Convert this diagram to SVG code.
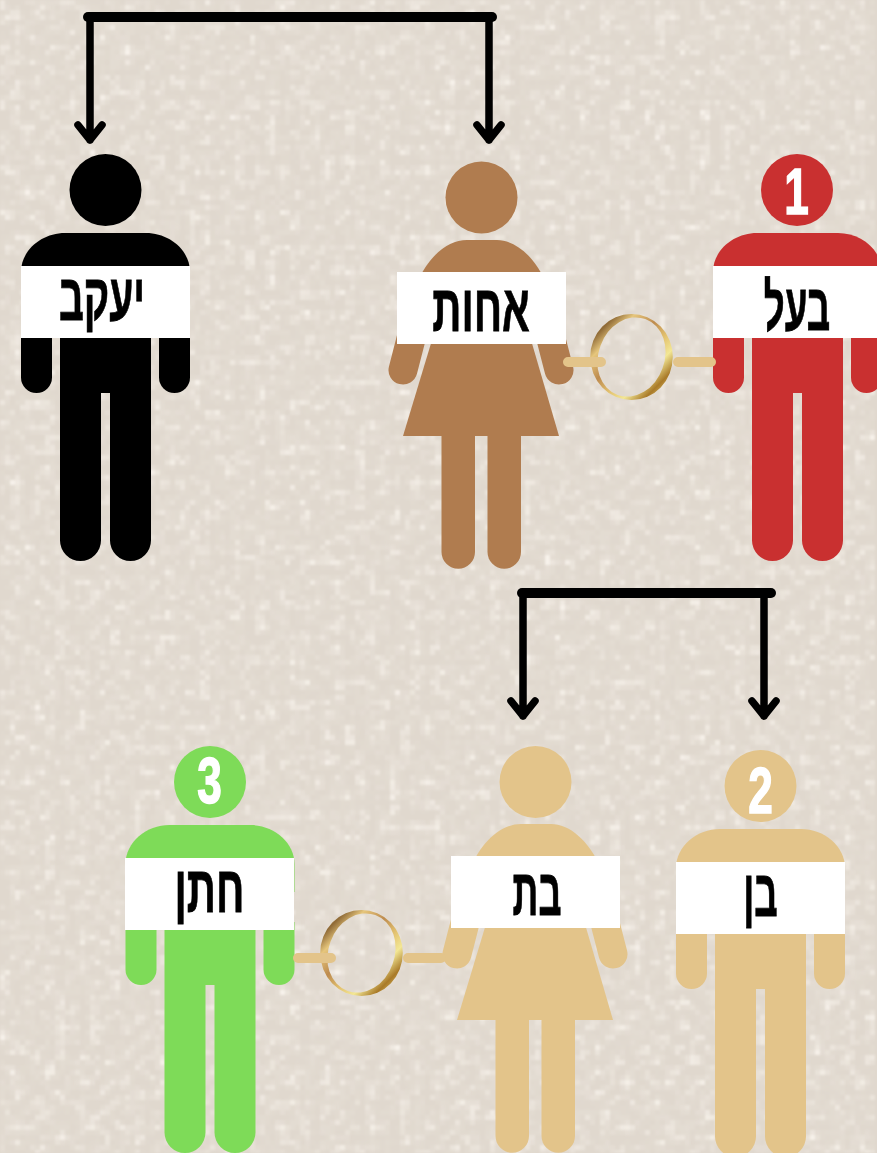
<svg xmlns="http://www.w3.org/2000/svg" width="877" height="1153" viewBox="0 0 877 1153">
<style>
.lbl{fill:#fff}
.t{font-family:"Liberation Sans","DejaVu Sans",sans-serif;font-weight:700;font-size:66px;fill:#000;stroke:#000;stroke-width:.8px;text-anchor:middle}
.n{font-family:"Liberation Sans","DejaVu Sans",sans-serif;font-weight:700;font-size:65px;fill:#fff;stroke:#fff;stroke-width:1.500px;text-anchor:middle}
.line{fill:none;stroke:#000;stroke-linecap:round;stroke-linejoin:round}
.bar{fill:none;stroke:#e3c48a;stroke-width:10;stroke-linecap:round}
</style>
<defs>
<filter id="speck" x="0" y="0" width="100%" height="100%" color-interpolation-filters="sRGB">
<feTurbulence type="fractalNoise" baseFrequency="0.09" numOctaves="3" seed="11"/>
<feColorMatrix type="matrix" values="0 0 0 0 1  0 0 0 0 0.985  0 0 0 0 0.96  1 0 0 0 0"/>
<feComponentTransfer result="n"><feFuncA type="table" tableValues="0 0 0 .04 .14 .4 .7 .9"/></feComponentTransfer>
<feFlood x="2" y="2" width="1" height="1" flood-color="#000"/>
<feComposite width="5" height="5"/>
<feTile result="grid"/>
<feComposite in="n" in2="grid" operator="in"/>
<feMorphology operator="dilate" radius="2"/>
<feGaussianBlur stdDeviation=".8"/>
</filter>
<linearGradient id="gold" gradientUnits="userSpaceOnUse" x1="-38" y1="-38" x2="38" y2="38">
<stop offset="0" stop-color="#d8b36a"/>
<stop offset=".12" stop-color="#8f6a36"/>
<stop offset=".24" stop-color="#e6c67c"/>
<stop offset=".42" stop-color="#bd8b4e"/>
<stop offset=".58" stop-color="#e2c06e"/>
<stop offset=".72" stop-color="#f3e795"/>
<stop offset=".86" stop-color="#a97a28"/>
<stop offset="1" stop-color="#e9d27a"/>
</linearGradient>
<path id="ring" fill="url(#gold)" fill-rule="evenodd" d="M-41.300,0A41.300,43 0 1 1 41.300,0A41.300,43 0 1 1 -41.300,0ZM-31,-11.290A33,39.500 20 1 0 31,11.290A33,39.500 20 1 0 -31,-11.290Z"/>
<g id="man">
<path d="M21,272C21,250 42,233 65,233H146C169,233 190,250 190,272V300H21Z"/>
<path d="M21,330H52V377.500A15.500,15.500 0 0 1 21,377.500Z"/>
<path d="M159,330H190V377.500A15.500,15.500 0 0 1 159,377.500Z"/>
<path d="M60,330H151V540.500A20.500,20.500 0 0 1 110,540.500V393H101V540.500A20.500,20.500 0 0 1 60,540.500Z"/>
</g>
<g id="woman">
<path d="M416,285C428,256 448,240 467,240H497C515,240 535,256 547,285Z"/>
<path d="M432,340H531L559,436H403Z"/>
<path d="M441.500,430H475V552A16.750,16.750 0 0 1 441.500,552Z"/>
<path d="M487.500,430H521V552A16.750,16.750 0 0 1 487.500,552Z"/>
<path d="M412,335L403,370M550,335L559,370" fill="none" stroke-width="29" stroke-linecap="round" style="stroke:inherit"/>
</g>
</defs>
<g id="background">
<rect width="877" height="1153" fill="#e0d8ce"/>
<rect width="877" height="1153" filter="url(#speck)"/>
</g>
<g id="connectors">
<path class="line" stroke-width="10" d="M88,17H492"/>
<path class="line" stroke-width="7.500" d="M90,17V140M78,125L90,140L102,125M489,17V140M477,125L489,140L501,125"/>
<path class="line" stroke-width="10" d="M522,593H771"/>
<path class="line" stroke-width="7.500" d="M523,593V716M511,701L523,716L535,701M764,593V716M752,701L764,716L776,701"/>
</g>
<g id="node-yaakov" fill="#000">
<circle cx="105.500" cy="190" r="36"/>
<use href="#man"/>
<rect class="lbl" x="21" y="266" width="169" height="72"/>
<text class="t" transform="translate(102 320) scale(.59 1)">יעקב</text>
</g>
<g id="node-achot" fill="#b07c4f" stroke="#b07c4f" stroke-width="0">
<circle cx="481.500" cy="197.500" r="36"/>
<use href="#woman"/>
<rect class="lbl" x="397" y="272" width="169" height="72"/>
<text class="t" transform="translate(481 331) scale(.615 1)">אחות</text>
</g>
<g id="node-baal" fill="#c93030">
<circle cx="797" cy="190" r="36"/>
<use href="#man" x="692"/>
<rect class="lbl" x="713" y="266" width="169" height="72"/>
<text class="t" transform="translate(797 330) scale(.555 1)">בעל</text>
<text class="n" transform="translate(796.500 214) scale(.68 1)">1</text>
</g>
<g id="node-chatan" fill="#7edb58">
<circle cx="210" cy="782" r="36"/>
<use href="#man" x="104.500" y="592"/>
<rect class="lbl" x="125" y="858" width="169" height="72"/>
<text class="t" transform="translate(209.500 912) scale(.615 1)">חתן</text>
<text class="n" transform="translate(209.500 803) scale(.68 1)">3</text>
</g>
<g id="node-bat" fill="#e3c48a" stroke="#e3c48a" stroke-width="0">
<circle cx="535.500" cy="782" r="36"/>
<use href="#woman" x="54" y="584"/>
<rect class="lbl" x="451" y="856" width="169" height="72"/>
<text class="t" transform="translate(537 915) scale(.545 1)">בת</text>
</g>
<g id="node-ben" fill="#e3c48a">
<circle cx="760.500" cy="786" r="36"/>
<use href="#man" x="655" y="596"/>
<rect class="lbl" x="676" y="862" width="169" height="72"/>
<text class="t" transform="translate(760.500 916) scale(.555 1)">בן</text>
<text class="n" transform="translate(760.500 813) scale(.68 1)">2</text>
</g>
<g id="marriage-1">
<use href="#ring" transform="translate(631.500 357)"/>
<path class="bar" d="M568,362H601M678,362H711"/>
</g>
<g id="marriage-2">
<use href="#ring" transform="translate(361.500 953)"/>
<path class="bar" d="M298,958H331M408,958H441"/>
</g>
</svg>
